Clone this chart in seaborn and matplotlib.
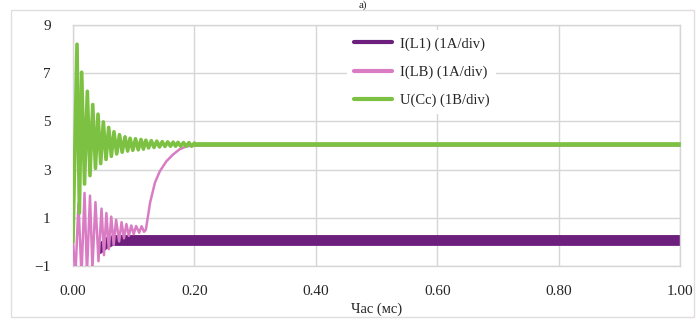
import matplotlib
matplotlib.use("Agg")
import matplotlib.pyplot as plt
import seaborn as sns
import pandas as pd
from matplotlib.lines import Line2D
from matplotlib.patches import Rectangle

# ---- data ----
labels = ["I(L1) (1A/div)", "I(LB) (1A/div)", "U(Cc) (1B/div)"]
x_ticks = [0.0, 0.2, 0.4, 0.6, 0.8, 1.0]
x_tick_labels = ["0.00", "0.20", "0.40", "0.60", "0.80", "1.00"]
y_ticks = [-1, 1, 3, 5, 7, 9]
y_tick_labels = ["\u22121", "1", "3", "5", "7", "9"]
x_label = "Час (мс)"
title_text = "а)"

# U(Cc): transient extremes
green_t = [0.0, 0.0066, 0.0105, 0.0143, 0.019, 0.0236, 0.028, 0.0325, 0.037, 0.0412,
           0.0456, 0.050, 0.0544, 0.0588, 0.0632, 0.0675, 0.072, 0.0766, 0.081, 0.0857,
           0.090, 0.094, 0.0985, 0.103, 0.1075, 0.112, 0.116, 0.120, 0.1245, 0.129,
           0.1335, 0.138, 0.1425, 0.147, 0.1515, 0.156, 0.1605, 0.165, 0.169, 0.173,
           0.1775, 0.182, 0.1865, 0.191, 0.1955, 0.200]
green_v = [0.0, 8.2, 1.2, 7.04, 2.4, 6.25, 2.75, 5.7, 3.05, 5.3,
           3.25, 4.98, 3.42, 4.75, 3.55, 4.57, 3.65, 4.45, 3.72, 4.36,
           3.77, 4.3, 3.8, 4.28, 3.82, 4.25, 3.85, 4.22, 3.9, 4.2,
           3.92, 4.18, 3.94, 4.16, 3.96, 4.15, 3.97, 4.14, 3.97, 4.13,
           3.97, 4.12, 3.97, 4.12, 3.97, 4.1]
# U(Cc): steady ripple band
green_band_t = [0.198, 1.0]
green_band_lo = [3.96, 3.96]
green_band_hi = [4.13, 4.13]

# I(LB)
pink_t = [0.0, 0.004, 0.009, 0.014, 0.019, 0.023, 0.028, 0.032, 0.037, 0.042,
          0.047, 0.051, 0.055, 0.059, 0.063, 0.067, 0.071, 0.076, 0.080, 0.084,
          0.088, 0.092, 0.096, 0.100, 0.104, 0.109, 0.113, 0.117, 0.120,
          0.127, 0.135, 0.143, 0.154, 0.165, 0.176, 0.188, 0.198, 1.0]
pink_v = [0.0, -1.4, 1.6, -1.4, 2.03, -1.3, 1.92, -1.1, 1.65, -0.8,
          1.38, -0.55, 1.2, -0.3, 1.05, -0.12, 0.92, 0.02, 0.82, 0.15,
          0.74, 0.25, 0.68, 0.32, 0.66, 0.38, 0.65, 0.42, 0.5,
          1.63, 2.46, 2.93, 3.35, 3.63, 3.85, 3.97, 4.0, 4.0]

# I(L1): band envelope
purple_t = [0.04, 0.045, 0.055, 0.065, 1.0]
purple_hi = [-0.1, 0.0, 0.2, 0.28, 0.28]
purple_lo = [-0.45, -0.45, -0.25, -0.12, -0.12]

colors = ["#6c1f7c", "#d97cc4", "#7dc142"]

# ---- plot ----
sns.set_theme(style="white")
plt.rcParams["font.family"] = ["Liberation Serif", "DejaVu Serif"]

fig = plt.figure(figsize=(6.96, 3.20), dpi=100)
ax = fig.add_axes([73 / 696, 1 - 266 / 320, 607 / 696, 241 / 320])

ax.fill_between(purple_t, purple_lo, purple_hi, color=colors[0], linewidth=0.8,
                edgecolor=colors[0], zorder=2)

df_pink = pd.DataFrame({"t": pink_t, "v": pink_v})
sns.lineplot(data=df_pink, x="t", y="v", sort=False, estimator=None,
             color=colors[1], linewidth=1.8, ax=ax, zorder=3)

df_green = pd.DataFrame({"t": green_t, "v": green_v})
sns.lineplot(data=df_green, x="t", y="v", sort=False, estimator=None,
             color=colors[2], linewidth=2.6, ax=ax, zorder=4)
ax.fill_between(green_band_t, green_band_lo, green_band_hi, color=colors[2],
                linewidth=0.5, edgecolor=colors[2], zorder=4)

ax.set_xlim(0, 1.0)
ax.set_ylim(-1, 9)
ax.set_xticks(x_ticks)
ax.set_xticklabels(x_tick_labels)
ax.set_yticks(y_ticks)
ax.set_yticklabels(y_tick_labels)
ax.tick_params(axis="both", length=0, labelsize=11, colors="#262626")
ax.tick_params(axis="x", pad=14)
ax.tick_params(axis="y", pad=16)
ax.set_xlabel(x_label, fontsize=10.5, color="#262626", labelpad=3)
ax.set_ylabel("")
ax.grid(True, color="#d6d6d6", linewidth=1.0, zorder=0)
ax.set_axisbelow(True)
for s in ax.spines.values():
    s.set_color("#d6d6d6")
    s.set_linewidth(1.0)

handles = [Line2D([0], [0], color=c, linewidth=3) for c in colors]
leg = ax.legend(handles, labels, loc="upper left",
                bbox_to_anchor=((347 - 73) / 607, (266 - 30) / 241),
                borderaxespad=0, frameon=True, fontsize=10.5,
                handlelength=2.6, handletextpad=0.5, labelspacing=1.0,
                borderpad=0.5)
leg.get_frame().set_facecolor("white")
leg.get_frame().set_edgecolor("none")
leg.get_frame().set_alpha(1.0)
leg.set_zorder(10)
for t in leg.get_texts():
    t.set_color("#262626")

fig.patches.append(Rectangle((11 / 696, 3 / 320), (694 - 11) / 696, (310 - 3) / 320,
                             transform=fig.transFigure, fill=False,
                             edgecolor="#e2dede", linewidth=1.0))
fig.text(363 / 696, 1 - 5 / 320, title_text, ha="center", va="center",
         fontsize=8, color="#262626")

fig.savefig("out.png", dpi=100)
